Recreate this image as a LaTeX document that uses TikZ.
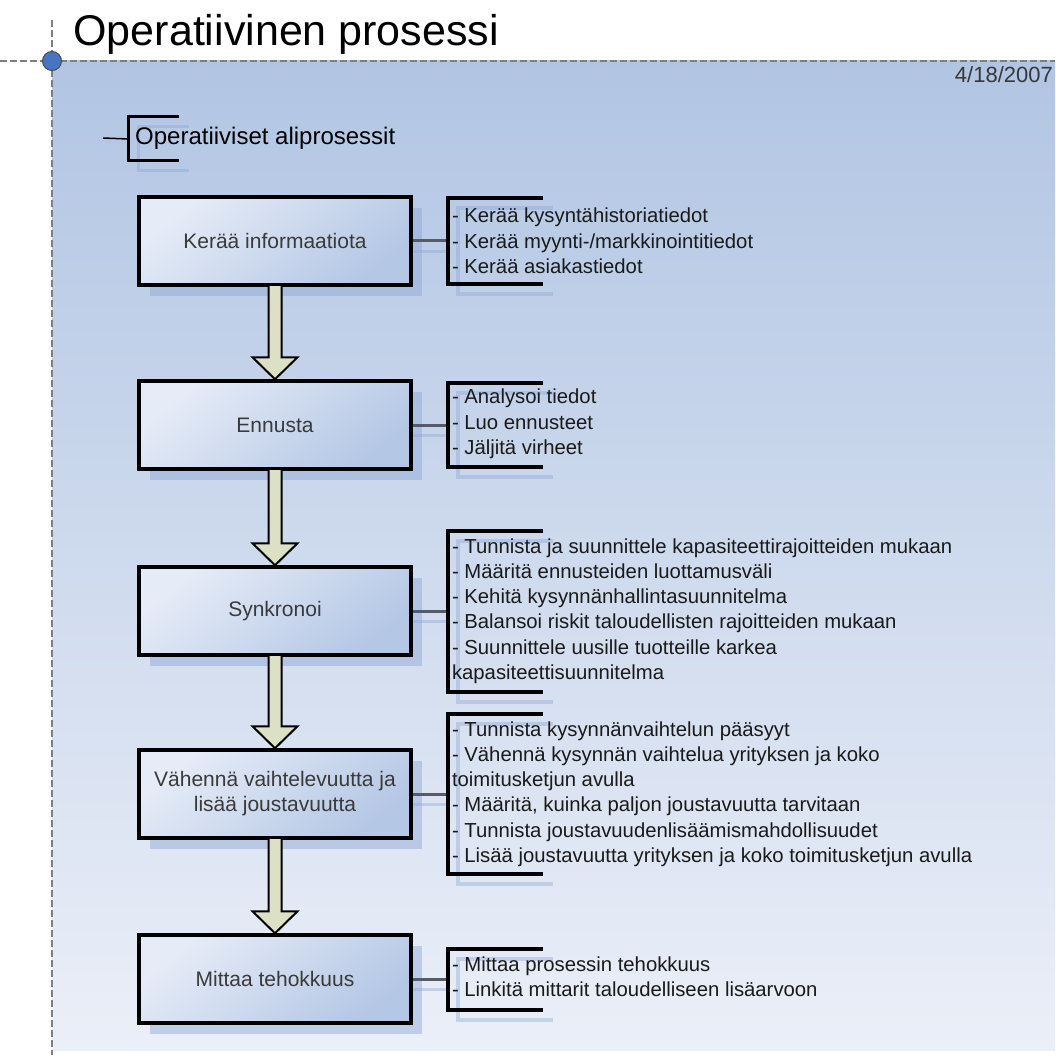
\documentclass[tikz,border=0pt]{standalone}
\usepackage{fontspec}
\setmainfont{Liberation Sans}
\usetikzlibrary{calc,shadows}

\definecolor{bgtop}{HTML}{B1C5E3}
\definecolor{bgbot}{HTML}{EBEFF8}
\definecolor{boxlight}{HTML}{E6ECF7}
\definecolor{boxdark}{HTML}{B4C7E5}
\definecolor{shadowblue}{HTML}{8CA6D4}
\definecolor{arrowfill}{HTML}{DCE1C6}
\definecolor{guide}{HTML}{7F7F7F}
\definecolor{handle}{HTML}{4874C2}
\definecolor{linkgray}{HTML}{555B68}
\definecolor{boxtext}{HTML}{3A3A3A}
\definecolor{desctext}{HTML}{1A1A1A}

\tikzset{
  guideline/.style={draw=guide, line width=2pt, dash pattern=on 7pt off 3pt},
  stepbox/.style={rectangle, draw=black, line width=3.5pt, minimum width=272pt,
    minimum height=88pt, inner sep=0pt, top color=boxlight, bottom color=boxdark,
    shading angle=40, align=center, text=boxtext,
    font=\fontsize{21}{25}\selectfont,
    drop shadow={shadow xshift=11pt, shadow yshift=-11pt, fill=shadowblue, opacity=0.45}},
  brk/.style={rectangle, inner sep=0pt, outer sep=0pt, minimum width=95pt, anchor=west},
  brackline/.style={draw=black, line width=4pt},
  brackshade/.style={draw=shadowblue, line width=4pt, opacity=0.4},
  desc/.style={anchor=west, inner sep=0pt, outer sep=0pt, align=left, text=desctext,
    font=\fontsize{20.3}{25.3}\selectfont},
  link/.style={draw=linkgray, line width=3pt},
  linkshade/.style={draw=shadowblue, line width=3pt, opacity=0.4},
  flowarrow/.style={fill=arrowfill, draw=black, line width=2pt, line join=miter}
}

% open bracket round a list, with its soft offset shadow
\newcommand\drawbracket[1]{%
  \draw[brackshade] ($(#1.north east)+(10,10)$) -- ($(#1.north west)+(10,10)$)
    -- ($(#1.south west)+(10,10)$) -- ($(#1.south east)+(10,10)$);
  \draw[brackline] (#1.north east) -- (#1.north west) -- (#1.south west) -- (#1.south east);}

% block arrow from the bottom of one step to the top of the next
\newcommand\flowstep[2]{%
  \filldraw[flowarrow] ($(#1.south)+(-6.5,-2)$) -- ($(#2.north)+(-6.5,-22)$)
    -- ($(#2.north)+(-22.5,-22)$) -- (#2.north) -- ($(#2.north)+(22.5,-22)$)
    -- ($(#2.north)+(6.5,-22)$) -- ($(#1.south)+(6.5,-2)$) -- cycle;}

% box-to-list connector with its shadow
\newcommand\linkto[2]{%
  \draw[linkshade] ($(#1.east)+(0,10)$) -- ($(#2.west)+(0,10)$);
  \draw[link] (#1.east) -- (#2.west);}

\begin{document}
\begin{tikzpicture}[x=1pt, y=-1pt]
\useasboundingbox (0,0) rectangle (1055,1059);
\fill[white] (0,0) rectangle (1055,1059);

% page area
\shade[top color=bgtop, bottom color=bgbot] (52,61) rectangle (1055,1050);
\draw[guideline] (0,61) -- (1055,61);
\draw[guideline] (52,20) -- (52,1055);
\node[circle, fill=handle, draw=black!70, line width=1pt, minimum size=19pt, inner sep=0pt] (corner) at (52,61) {};

\node[anchor=base west, font=\fontsize{43}{50}\selectfont] (title) at (70,46) {Operatiivinen prosessi};
\node[anchor=base east, font=\fontsize{22}{26}\selectfont, text=black!78, inner sep=0pt] (date) at (1053,83) {4/18/2007};

% sub-process heading
\coordinate (subtap) at (103,138);
\node[rectangle, inner sep=0pt, outer sep=0pt, minimum width=51pt, minimum height=44pt, anchor=west] (subbr) at (128,139) {};
\draw[brackshade, line width=3pt] ($(subbr.north east)+(10,10)$) -- ($(subbr.north west)+(10,10)$)
    -- ($(subbr.south west)+(10,10)$) -- ($(subbr.south east)+(10,10)$);
\draw[black, line width=1.5pt] (subtap) -- (subbr.west);
\draw[black, line width=3pt] (subbr.north east) -- (subbr.north west) -- (subbr.south west) -- (subbr.south east);
\node[anchor=west, inner sep=0pt, font=\fontsize{24}{28}\selectfont] (sub) at (135,138) {Operatiiviset aliprosessit};

% process steps
\node[stepbox] (k1) at (275,241) {Kerää informaatiota};
\node[stepbox] (k2) at (275,425) {Ennusta};
\node[stepbox] (k3) at (275,611) {Synkronoi};
\node[stepbox] (k4) at (275,794) {Vähennä vaihtelevuutta ja\\lisää joustavuutta};
\node[stepbox] (k5) at (275,979) {Mittaa tehokkuus};

% task lists
\node[brk, minimum height=86pt] (b1) at (448,241) {};
\node[brk, minimum height=84pt] (b2) at (448,425) {};
\node[brk, minimum height=161pt] (b3) at (448,611) {};
\node[brk, minimum height=160pt] (b4) at (448,794) {};
\node[brk, minimum height=61pt] (b5) at (448,979) {};

\linkto{k1}{b1}
\linkto{k2}{b2}
\linkto{k3}{b3}
\linkto{k4}{b4}
\linkto{k5}{b5}

\drawbracket{b1}
\drawbracket{b2}
\drawbracket{b3}
\drawbracket{b4}
\drawbracket{b5}

\node[desc] (d1) at (452,241) {- Kerää kysyntähistoriatiedot\\- Kerää myynti-/markkinointitiedot\\- Kerää asiakastiedot};
\node[desc] (d2) at (452,424) {- Analysoi tiedot\\- Luo ennusteet\\- Jäljitä virheet};
\node[desc] (d3) at (452,611) {- Tunnista ja suunnittele kapasiteettirajoitteiden mukaan\\- Määritä ennusteiden luottamusväli\\- Kehitä kysynnänhallintasuunnitelma\\- Balansoi riskit taloudellisten rajoitteiden mukaan\\- Suunnittele uusille tuotteille karkea\\kapasiteettisuunnitelma};
\node[desc] (d4) at (452,794) {- Tunnista kysynnänvaihtelun pääsyyt\\- Vähennä kysynnän vaihtelua yrityksen ja koko\\toimitusketjun avulla\\- Määritä, kuinka paljon joustavuutta tarvitaan\\- Tunnista joustavuudenlisäämismahdollisuudet\\- Lisää joustavuutta yrityksen ja koko toimitusketjun avulla};
\node[desc] (d5) at (452,977) {- Mittaa prosessin tehokkuus\\- Linkitä mittarit taloudelliseen lisäarvoon};

% flow between steps
\flowstep{k1}{k2}
\flowstep{k2}{k3}
\flowstep{k3}{k4}
\flowstep{k4}{k5}
\end{tikzpicture}
\end{document}
